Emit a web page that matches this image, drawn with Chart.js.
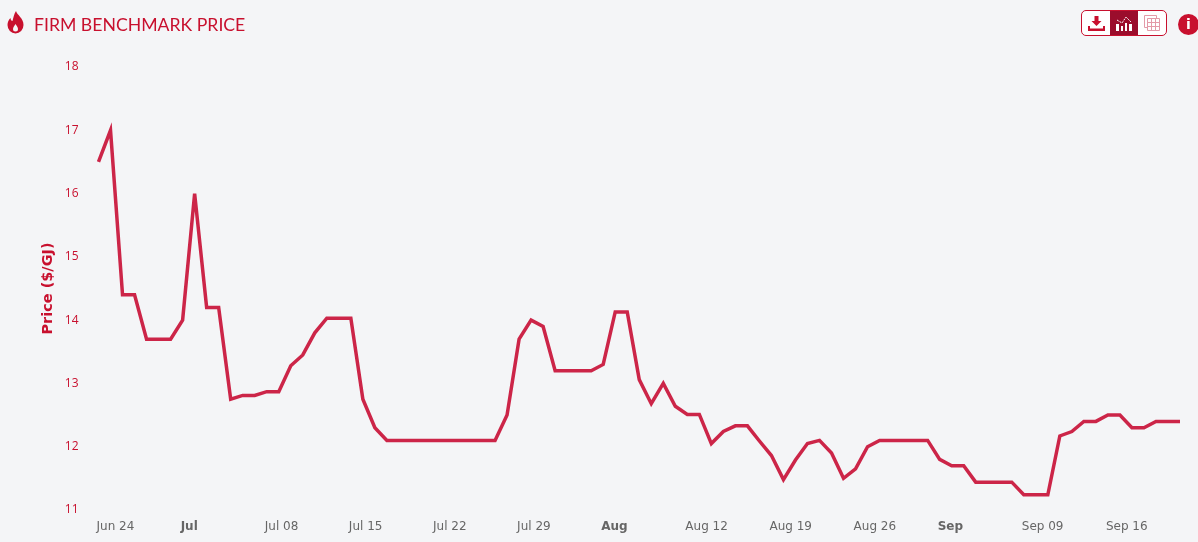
<!DOCTYPE html>
<html>
<head>
<meta charset="utf-8">
<title>Firm Benchmark Price</title>
<script src="https://cdn.jsdelivr.net/npm/chart.js@4"></script>
<style>
    html, body { margin: 0; padding: 0; background: #f4f5f7; overflow: hidden; }
    #wrap { position: relative; width: 1198px; height: 542px; }
    #flame { position: absolute; left: 7px; top: 11px; }
    #title { position: absolute; left: 34px; top: 14px; font: 17.65px Lato, sans-serif; color: #c8102e; white-space: nowrap; }
    #tools { position: absolute; left: 1081px; top: 10px; width: 84px; height: 24px; border: 1px solid #c8102e; border-radius: 5px; background: #fff; display: flex; overflow: hidden; }
    #tools div { flex: 1; display: flex; align-items: center; justify-content: center; }
    #tools .on { background: #9b0d2c; }
    #info { position: absolute; left: 1178px; top: 14px; width: 21px; height: 21px; border-radius: 50%; background: #c8102e; color: #fff; font: bold 14px/21px "DejaVu Sans", sans-serif; text-align: center; }
    #chart { position: absolute; left: 0; top: 0; }
</style>
</head>
<body>
<div id="wrap">
    <canvas id="chart" width="1198" height="542"></canvas>
    <svg id="flame" width="17" height="23" viewBox="0 0 17 23">
        <path fill="#c8102e" d="M9 0c1 4 7.500 7 7.500 14a8 8.500 0 0 1-16 0c0-3 1-5 3-7 0 2 1 3 2 3 1-4 1.500-7 3.500-10z"/>
        <path fill="#f4f5f7" d="M8.500 13c1 2 2.500 3 2.500 5a2.500 2.500 0 0 1-5 0c0-2 1.500-3 2.500-5z"/>
    </svg>
    <div id="title">FIRM BENCHMARK PRICE</div>
    <div id="tools">
        <div>
            <svg width="17" height="16" viewBox="0 0 17 16">
                <path fill="#c8102e" d="M6.500 1h4v5h3l-5 5-5-5h3zM0 11h2v2.500h13V11h2v5H0z"/>
            </svg>
        </div>
        <div class="on">
            <svg width="18" height="16" viewBox="0 0 18 16">
                <path fill="#fff" d="M1 9h3v7H1zM6 11h2v5H6zM10 8h2v8h-2zM14 9h3v7h-3z"/>
                <path fill="none" stroke="#fff" stroke-dasharray="2 1" d="M2 5l5 3 4-6 5 5"/>
            </svg>
        </div>
        <div>
            <svg width="16" height="16" viewBox="0 0 16 16">
                <path fill="none" stroke="#e39aa8" stroke-width="1" d="M.5.500h12v3M.5.500v12h3M3.500 3.500h12v12h-12zM3.500 7.500h12M3.500 11.500h12M7.500 3.500v12M11.500 3.500v12"/>
            </svg>
        </div>
    </div>
    <div id="info">i</div>
</div>
<script>
const days = [
    'Jun 23', 'Jun 24', 'Jun 25', 'Jun 26', 'Jun 27', 'Jun 28', 'Jun 29', 'Jun 30',
    'Jul 01', 'Jul 02', 'Jul 03', 'Jul 04', 'Jul 05', 'Jul 06', 'Jul 07', 'Jul 08', 'Jul 09', 'Jul 10',
    'Jul 11', 'Jul 12', 'Jul 13', 'Jul 14', 'Jul 15', 'Jul 16', 'Jul 17', 'Jul 18', 'Jul 19', 'Jul 20',
    'Jul 21', 'Jul 22', 'Jul 23', 'Jul 24', 'Jul 25', 'Jul 26', 'Jul 27', 'Jul 28', 'Jul 29', 'Jul 30', 'Jul 31',
    'Aug 01', 'Aug 02', 'Aug 03', 'Aug 04', 'Aug 05', 'Aug 06', 'Aug 07', 'Aug 08', 'Aug 09', 'Aug 10',
    'Aug 11', 'Aug 12', 'Aug 13', 'Aug 14', 'Aug 15', 'Aug 16', 'Aug 17', 'Aug 18', 'Aug 19', 'Aug 20',
    'Aug 21', 'Aug 22', 'Aug 23', 'Aug 24', 'Aug 25', 'Aug 26', 'Aug 27', 'Aug 28', 'Aug 29', 'Aug 30', 'Aug 31',
    'Sep 01', 'Sep 02', 'Sep 03', 'Sep 04', 'Sep 05', 'Sep 06', 'Sep 07', 'Sep 08', 'Sep 09', 'Sep 10',
    'Sep 11', 'Sep 12', 'Sep 13', 'Sep 14', 'Sep 15', 'Sep 16', 'Sep 17', 'Sep 18', 'Sep 19', 'Sep 20', 'Sep 21'
];

const prices = [
    16.5, 17.0, 14.4, 14.4, 13.7, 13.7, 13.7, 14.0,
    16.0, 14.2, 14.2, 12.75, 12.81, 12.81, 12.87, 12.87, 13.28, 13.45,
    13.8, 14.03, 14.03, 14.03, 12.75, 12.3, 12.1, 12.1, 12.1, 12.1,
    12.1, 12.1, 12.1, 12.1, 12.1, 12.1, 12.5, 13.7, 14.0, 13.9, 13.2,
    13.2, 13.2, 13.2, 13.3, 14.13, 14.13, 13.06, 12.68, 13.0, 12.64,
    12.51, 12.51, 12.05, 12.24, 12.33, 12.33, 12.09, 11.86, 11.48, 11.79,
    12.05, 12.1, 11.9, 11.5, 11.65, 12.0, 12.1, 12.1, 12.1, 12.1, 12.1,
    11.8, 11.7, 11.7, 11.44, 11.44, 11.44, 11.44, 11.24, 11.24, 11.24,
    12.17, 12.24, 12.4, 12.4, 12.5, 12.5, 12.3, 12.3, 12.4, 12.4, 12.4
];

// weekly labels, the first week of a month only shows the month name
const tickLabels = {
    'Jun 24': 'Jun 24', 'Jul 01': 'Jul', 'Jul 08': 'Jul 08', 'Jul 15': 'Jul 15', 'Jul 22': 'Jul 22',
    'Jul 29': 'Jul 29', 'Aug 05': 'Aug', 'Aug 12': 'Aug 12', 'Aug 19': 'Aug 19', 'Aug 26': 'Aug 26',
    'Sep 02': 'Sep', 'Sep 09': 'Sep 09', 'Sep 16': 'Sep 16'
};
const monthLabels = ['Jul', 'Aug', 'Sep'];

const ctx = document.getElementById('chart');

new Chart(ctx, {
    type: 'line',
    data: {
        labels: days,
        datasets: [{
            label: 'Price ($/GJ)',
            data: prices,
            borderColor: '#cc2548',
            borderWidth: 3.5,
            borderJoinStyle: 'miter',
            pointRadius: 0,
            tension: 0,
            fill: false
        }]
    },
    options: {
        responsive: false,
        animation: false,
        layout: {
            padding: { top: 67, right: 18, bottom: 0, left: 0 }
        },
        plugins: {
            legend: { display: false },
            tooltip: { enabled: false }
        },
        scales: {
            x: {
                grid: { display: false },
                border: { display: false },
                afterFit: function (scale) { scale.height = 32; scale.paddingLeft = 0; scale.paddingRight = 0; },
                ticks: {
                    autoSkip: false,
                    maxRotation: 0,
                    align: 'start',
                    labelOffset: -14,
                    padding: 2,
                    color: '#666',
                    font: function (c) {
                        return {
                            family: '"DejaVu Sans"',
                            size: 12,
                            weight: monthLabels.includes(c.tick.label) ? 'bold' : 'normal'
                        };
                    },
                    callback: function (value) {
                        return tickLabels[this.getLabelForValue(value)] || '';
                    }
                }
            },
            y: {
                min: 11,
                max: 18,
                grid: { display: false },
                border: { display: false },
                afterFit: function (scale) { scale.width = 98.5; },
                title: {
                    display: true,
                    text: 'Price ($/GJ)',
                    color: '#c8102e',
                    padding: { top: 40, bottom: 0 },
                    font: { family: '"DejaVu Sans"', size: 14.5, weight: 'bold' }
                },
                ticks: {
                    stepSize: 1,
                    padding: 12,
                    color: '#c8102e',
                    font: { family: '"Open Sans"', size: 12 }
                }
            }
        }
    }
});
</script>
</body>
</html>
